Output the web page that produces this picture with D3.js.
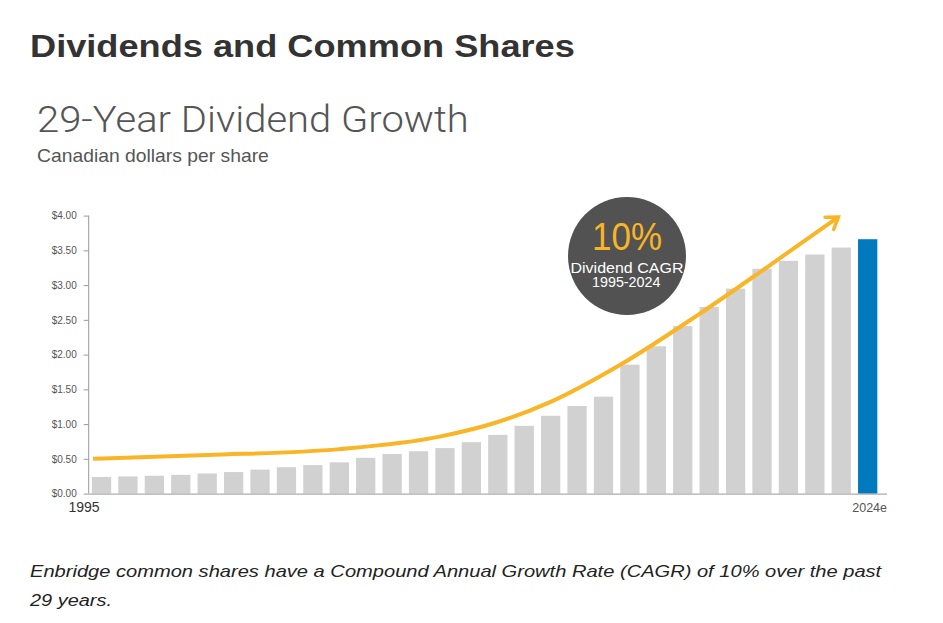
<!DOCTYPE html>
<html>
<head>
<meta charset="utf-8">
<script src="https://cdn.jsdelivr.net/npm/d3@7"></script>
<style>
  html, body { margin: 0; padding: 0; background: #fff; }
  svg { display: block; }
</style>
</head>
<body>
<svg id="chart" width="943" height="623"></svg>
<script>
// ---- data ----
const years = ["1995","1996","1997","1998","1999","2000","2001","2002","2003","2004",
  "2005","2006","2007","2008","2009","2010","2011","2012","2013","2014",
  "2015","2016","2017","2018","2019","2020","2021","2022","2023","2024"];
const dividends = [0.24,0.247,0.257,0.27,0.29,0.31,0.345,0.38,0.41,0.45,
  0.515,0.57,0.61,0.655,0.74,0.845,0.975,1.12,1.26,1.395,
  1.855,2.12,2.41,2.685,2.95,3.235,3.35,3.44,3.54,3.66];
const yTicks = [0,0.5,1,1.5,2,2.5,3,3.5,4];
const xLabels = ["1995","2024e"];
// trend arrow (year position, value)
const trendX = [1994.68,1999,2004,2007.8,2010,2012,2014.62,2017.65,2020.2,2022.89];
const trendY = [0.50,0.555,0.64,0.82,1.03,1.32,1.85,2.59,3.26,3.98];

const svg = d3.select("#chart");
const SANS = "Liberation Sans, Arial, Helvetica, sans-serif";

// place a text at (x, y) and stretch it horizontally to the given width
function fitText(g, x, y, width, attrs, str) {
  const t = g.append("text").attr("x", 0).attr("y", 0);
  Object.entries(attrs).forEach(([k, v]) => t.attr(k, v));
  t.text(str);
  const w = t.node().getComputedTextLength();
  const sx = width / w;
  t.attr("transform", `translate(${x},${y}) scale(${sx},1)`);
  return sx;
}

// titles
fitText(svg, 30, 57, 545, {"font-family": SANS, "font-weight": "bold", "font-size": 31, fill: "#333"},
  "Dividends and Common Shares");
fitText(svg, 37, 132, 432, {"font-family": "Roboto, " + SANS, "font-weight": 300, "font-size": 37.5, fill: "#555"},
  "29-Year Dividend Growth");
fitText(svg, 37, 162, 232, {"font-family": SANS, "font-size": 17.5, fill: "#555"},
  "Canadian dollars per share");

// scales
const y = d3.scaleLinear().domain([0, 4]).range([493.6, 215.6]);
const x = d3.scaleBand().domain(years).range([88.7, 880.5])
  .paddingInner(0.27).paddingOuter(0.12);
const bw = x.bandwidth();
const xc = d3.scaleLinear().domain([1995, 2024])
  .range([x("1995") + bw / 2, x("2024") + bw / 2]);

// y axis
const yAxis = d3.axisLeft(y).tickValues(yTicks).tickSize(5).tickPadding(7)
  .tickFormat(d => "$" + d3.format(".2f")(d));
const gy = svg.append("g").attr("transform", "translate(88.7,0)").call(yAxis);
gy.select(".domain").attr("stroke", "#999").attr("d", "M0," + y(4) + "V" + y(0));
gy.selectAll(".tick line").attr("stroke", "#999");
gy.selectAll(".tick text").attr("font-family", SANS)
  .attr("font-size", 10).attr("fill", "#555");

// bars
svg.append("g").selectAll("rect").data(years).join("rect")
  .attr("x", d => x(d)).attr("width", bw)
  .attr("y", (d, i) => y(dividends[i]))
  .attr("height", (d, i) => y(0) - y(dividends[i]))
  .attr("fill", (d, i) => i === years.length - 1 ? "#0179bd" : "#d1d1d1");

// x axis line
svg.append("line").attr("x1", 88.7).attr("x2", 887)
  .attr("y1", y(0) + 0.5).attr("y2", y(0) + 0.5)
  .attr("stroke", "#999").attr("stroke-width", 1);

// x labels
svg.append("text").attr("x", 68.5).attr("y", 512)
  .attr("font-family", SANS).attr("font-size", 14)
  .attr("fill", "#333").text(xLabels[0]);
svg.append("text").attr("x", 887).attr("y", 512).attr("text-anchor", "end")
  .attr("font-family", SANS).attr("font-size", 12.5)
  .attr("fill", "#555").text(xLabels[1]);

// trend arrow
const defs = svg.append("defs");
defs.append("marker").attr("id", "arr").attr("viewBox", "-16 -12 20 24")
  .attr("refX", 0).attr("refY", 0).attr("markerWidth", 20).attr("markerHeight", 24)
  .attr("markerUnits", "userSpaceOnUse").attr("orient", "auto")
  .append("path").attr("d", "M-11,-7.5 L0,0 L-11,7.5")
  .attr("fill", "none").attr("stroke", "#f9b526").attr("stroke-width", 3.5)
  .attr("stroke-linecap", "round").attr("stroke-linejoin", "miter");
const line = d3.line().x(d => xc(d[0])).y(d => y(d[1])).curve(d3.curveMonotoneX);
svg.append("path").datum(trendX.map((t, i) => [t, trendY[i]]))
  .attr("d", line).attr("fill", "none").attr("stroke", "#f9b526")
  .attr("stroke-width", 4).attr("marker-end", "url(#arr)");

// CAGR badge
const badge = svg.append("g").attr("transform", "translate(627,256)");
badge.append("circle").attr("r", 59).attr("fill", "#525252");
fitText(badge, -35, -6, 70, {"font-family": SANS, "font-size": 38.5, fill: "#f9b526"}, "10%");
fitText(badge, -56.5, 16.5, 113, {"font-family": SANS, "font-size": 14.5, fill: "#fff"}, "Dividend CAGR");
fitText(badge, -35, 31, 68.5, {"font-family": SANS, "font-size": 15, fill: "#fff"}, "1995-2024");

// footnote
const fattrs = {"font-family": SANS, "font-style": "italic", "font-size": 16.5, fill: "#222"};
fitText(svg, 30, 577, 852, fattrs,
  "Enbridge common shares have a Compound Annual Growth Rate (CAGR) of 10% over the past");
fitText(svg, 30, 605.5, 82, fattrs, "29 years.");
</script>
</body>
</html>
